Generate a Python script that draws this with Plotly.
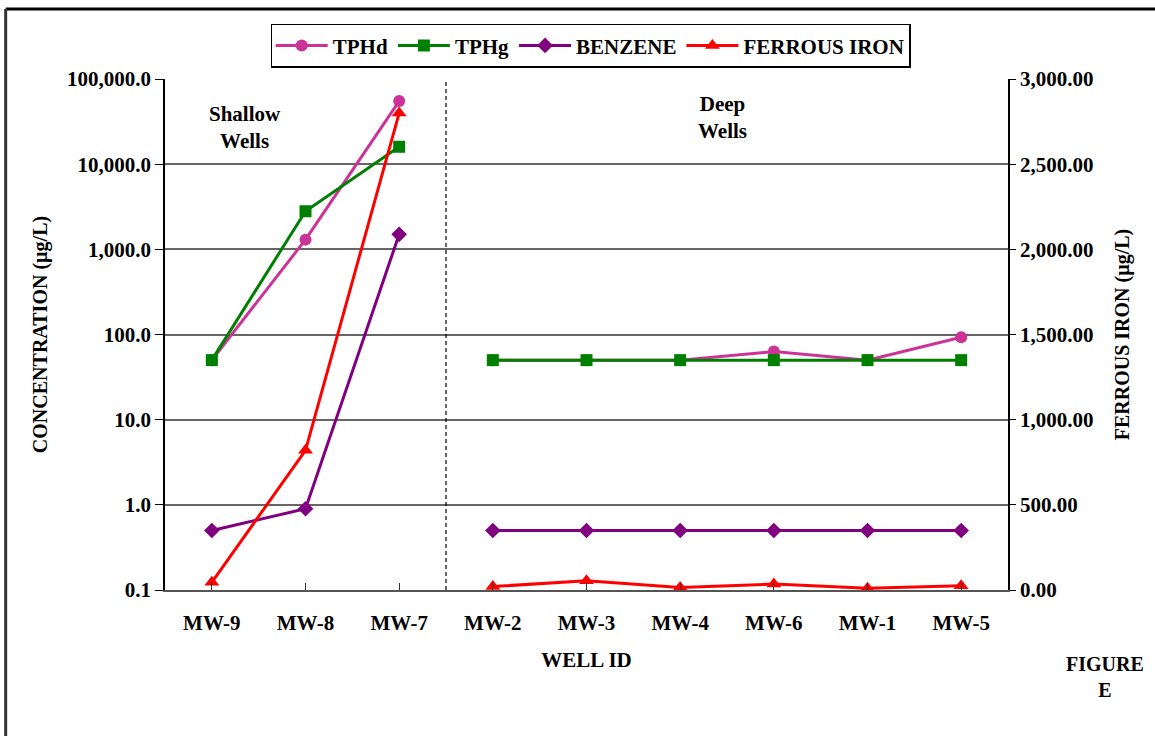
import plotly.graph_objects as go

wells = ["MW-9", "MW-8", "MW-7", "MW-2", "MW-3", "MW-4", "MW-6", "MW-1", "MW-5"]
tphd = [50, 1300, 55000, 50, 50, 50, 63, 50, 93]
tphg = [50, 2800, 16000, 50, 50, 50, 50, 50, 50]
benzene = [0.5, 0.9, 1500, 0.5, 0.5, 0.5, 0.5, 0.5, 0.5]
ferrous_iron = [45, 820, 2800, 20, 55, 15, 35, 10, 25]

# first three wells are shallow, the rest deep
n_shallow = 3

conc_ticks = [0.1, 1, 10, 100, 1000, 10000, 100000]
conc_tick_text = ["0.1", "1.0", "10.0", "100.0", "1,000.0", "10,000.0", "100,000.0"]

FONT = "Liberation Serif"
FS = 21
x_idx = list(range(len(wells)))

series = [
    ("TPHd", tphd, "#CC3399", "circle", 12, "y"),
    ("TPHg", tphg, "#008000", "square", 12, "y"),
    ("BENZENE", benzene, "#800080", "diamond", 12, "y"),
    ("FERROUS IRON", ferrous_iron, "#FF0000", "triangle-up", 13, "y2"),
]

fig = go.Figure()
for name, vals, color, sym, size, yax in series:
    # shallow and deep groups are drawn as separate, unconnected segments
    for part, (lo, hi) in enumerate([(0, n_shallow), (n_shallow, len(wells))]):
        fig.add_trace(go.Scatter(
            x=x_idx[lo:hi], y=vals[lo:hi], name=f"<b>{name}</b>",
            legendgroup=name, showlegend=(part == 0),
            mode="lines+markers", yaxis=yax,
            line=dict(color=color, width=3),
            marker=dict(symbol=sym, size=size, color=color)))

bold = dict(family=FONT, size=FS, color="black")

fig.update_layout(
    width=1155, height=736,
    margin=dict(l=165, r=147, t=79, b=146),
    paper_bgcolor="white", plot_bgcolor="white",
    font=dict(family=FONT, size=FS, color="black"),
    showlegend=True,
    legend=dict(orientation="h", x=0.505, xanchor="center", y=1.022, yanchor="bottom",
                bordercolor="black", borderwidth=1.5, bgcolor="white",
                font=dict(family=FONT, size=FS, color="black"),
                itemwidth=52, tracegroupgap=0),
    xaxis=dict(
        tickmode="array", tickvals=x_idx, ticktext=[f"<b>{w}</b>" for w in wells],
        range=[-0.5, len(wells) - 0.5],
        tickson="boundaries", ticks="inside", ticklen=7, tickcolor="#333",
        showgrid=False, showline=True, linecolor="#555", linewidth=1.5,
        ticklabelstandoff=13, tickfont=bold,
        title=dict(text="<b>WELL ID</b>", font=bold, standoff=18),
        zeroline=False,
    ),
    yaxis=dict(
        type="log", range=[-1, 5],
        tickmode="array", tickvals=conc_ticks,
        ticktext=[f"<b>{t}</b>" for t in conc_tick_text],
        ticks="outside", ticklen=8, tickcolor="black",
        showgrid=True, gridcolor="#666", gridwidth=1.5,
        showline=True, linecolor="black", linewidth=1.5,
        tickfont=bold,
        title=dict(text="<b>CONCENTRATION (µg/L)</b>", font=dict(family=FONT, size=20), standoff=14),
        zeroline=False,
    ),
    yaxis2=dict(
        overlaying="y", side="right", range=[0, 3000],
        tickmode="linear", tick0=0, dtick=500, tickformat=",.2f",
        ticks="outside", ticklen=6, tickcolor="black",
        showgrid=False, showline=True, linecolor="black", linewidth=1.5,
        tickfont=dict(family=FONT, size=FS, color="black", weight="bold"),
        title=dict(text="<b>FERROUS IRON (µg/L)</b>", font=dict(family=FONT, size=20), standoff=23),
        zeroline=False,
    ),
)

# Divider between shallow and deep wells
fig.add_shape(type="line", xref="x", yref="paper", x0=2.5, x1=2.5, y0=0, y1=1,
              line=dict(color="black", width=1.2, dash="4px,3px"))

# Outer frame (top and left edges)
fig.add_shape(type="line", xref="paper", yref="paper", x0=-0.189, x1=1.2, y0=1.137, y1=1.137,
              line=dict(color="black", width=3))
fig.add_shape(type="line", xref="paper", yref="paper", x0=-0.189, x1=-0.189, y0=1.137, y1=-0.3,
              line=dict(color="#333", width=3))

fig.add_annotation(text="<b>Shallow<br>Wells</b>", x=0.35, y=0.906, xref="x", yref="paper",
                   xanchor="center", yanchor="middle",
                   showarrow=False, font=dict(family=FONT, size=FS), align="center")
fig.add_annotation(text="<b>Deep<br>Wells</b>", x=5.45, y=0.924, xref="x", yref="paper",
                   xanchor="center", yanchor="middle",
                   showarrow=False, font=dict(family=FONT, size=FS), align="center")
fig.add_annotation(text="<b>FIGURE<br>E</b>", x=(1105 - 165) / 843, y=(590 - 677) / 511,
                   xref="paper", yref="paper", xanchor="center", yanchor="middle",
                   showarrow=False, font=dict(family=FONT, size=20), align="center")

fig.write_html("out.html")
